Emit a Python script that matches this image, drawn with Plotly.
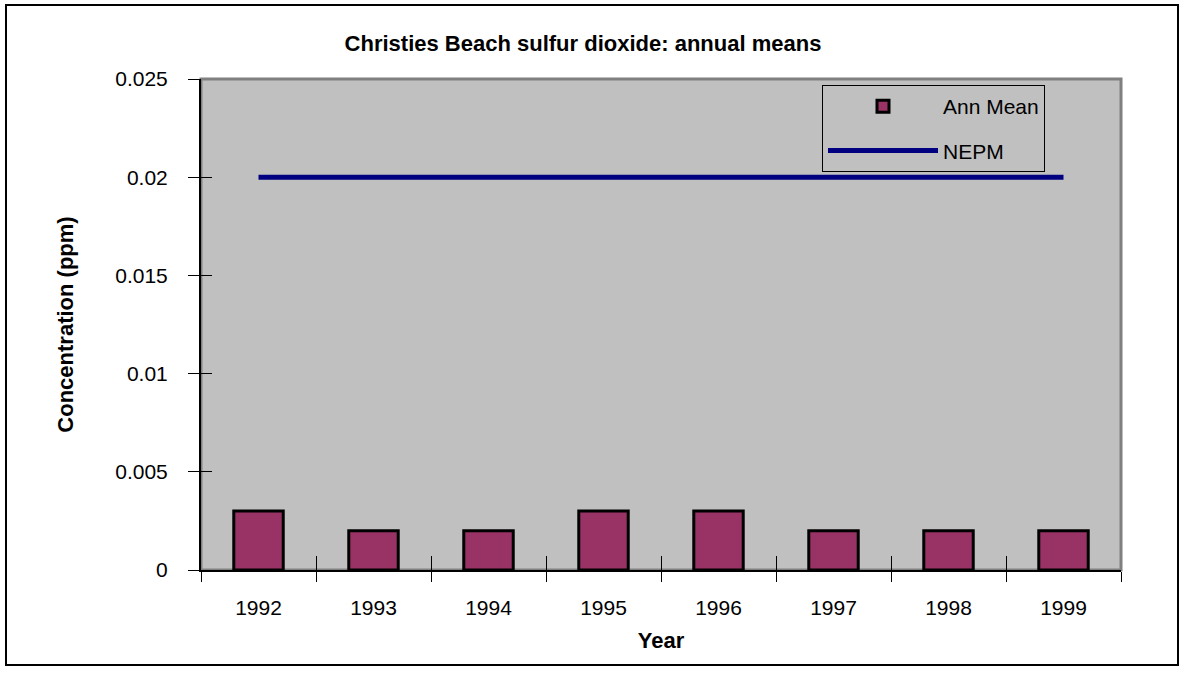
import plotly.graph_objects as go

years = ["1992", "1993", "1994", "1995", "1996", "1997", "1998", "1999"]
ann_mean = [0.003, 0.002, 0.002, 0.003, 0.003, 0.002, 0.002, 0.002]
nepm = [0.02] * 8
y_ticks = [0, 0.005, 0.01, 0.015, 0.02, 0.025]
y_tick_text = ["0", "0.005", "0.01", "0.015", "0.02", "0.025"]

FONT = "Liberation Sans, Arial, sans-serif"

fig = go.Figure()
fig.add_trace(go.Bar(
    x=years, y=ann_mean, name="Ann Mean", legendgroup="a",
    marker=dict(color="#993366", line=dict(color="black", width=3)),
    width=0.43,
))
fig.add_trace(go.Scatter(
    x=years, y=nepm, name="NEPM", mode="lines", legendgroup="b",
    line=dict(color="#000080", width=5),
))
# invisible helper trace for the inner-tick overlay axes
fig.add_trace(go.Scatter(x=years, y=nepm, xaxis="x2", yaxis="y2",
                         mode="none", showlegend=False, hoverinfo="skip"))

W, H = 1186, 675
L, R, T, B = 201, 1121, 79, 570

fig.update_layout(
    width=W, height=H,
    margin=dict(l=L, r=W - R, t=T, b=H - B),
    paper_bgcolor="white",
    plot_bgcolor="#C0C0C0",
    font=dict(family=FONT, size=21, color="black"),
    title=dict(text="<b>Christies Beach sulfur dioxide: annual means</b>",
               x=583 / W, xanchor="center", y=1 - 43 / H, yanchor="middle",
               font=dict(size=22, family=FONT)),
    showlegend=True,
    legend=dict(x=(822 - L) / (R - L), xanchor="left",
                y=(B - 85) / (B - T), yanchor="top",
                bgcolor="#C0C0C0", bordercolor="black", borderwidth=1,
                font=dict(size=21), itemwidth=110,
                traceorder="grouped", tracegroupgap=14),
    xaxis=dict(type="category", categoryarray=years, range=[-0.5, 7.5],
               tickson="boundaries", ticks="outside", ticklen=10, tickwidth=1,
               tickcolor="black", showline=True, linecolor="black", linewidth=2,
               showgrid=False, zeroline=False, ticklabelstandoff=18,
               title=dict(text="<b>Year</b>", standoff=14, font=dict(size=22))),
    yaxis=dict(range=[0, 0.025], tickvals=y_ticks, ticktext=y_tick_text,
               ticks="outside", ticklen=11, tickwidth=1, tickcolor="black",
               showline=True, linecolor="black", linewidth=2,
               showgrid=False, zeroline=False, ticklabelstandoff=16,
               title=dict(text="<b>Concentration (ppm)</b>", standoff=36,
                          font=dict(size=22))),
    xaxis2=dict(type="category", categoryarray=years, range=[-0.5, 7.5],
                overlaying="x", side="bottom", tickson="boundaries",
                ticks="inside", ticklen=14, tickwidth=1, tickcolor="black",
                showticklabels=False, showgrid=False, zeroline=False, showline=False),
    yaxis2=dict(range=[0, 0.025], tickvals=y_ticks, overlaying="y", side="left",
                ticks="inside", ticklen=11, tickwidth=1, tickcolor="black",
                showticklabels=False, showgrid=False, zeroline=False, showline=False),
    shapes=[
        # plot area frame (top & right grey border)
        dict(type="rect", xref="paper", yref="paper", x0=0, x1=1, y0=0, y1=1,
             line=dict(color="#808080", width=3), layer="below"),
        # outer figure border
        dict(type="rect", xref="paper", yref="paper",
             x0=(6 - L) / (R - L), x1=(1178 - L) / (R - L),
             y0=(B - 665) / (B - T), y1=(B - 5) / (B - T),
             line=dict(color="black", width=2), layer="above"),
    ],
)

fig.write_html("out.html", config={"displayModeBar": False},
               post_script="document.body.style.margin='0';document.body.style.overflow='hidden';")
